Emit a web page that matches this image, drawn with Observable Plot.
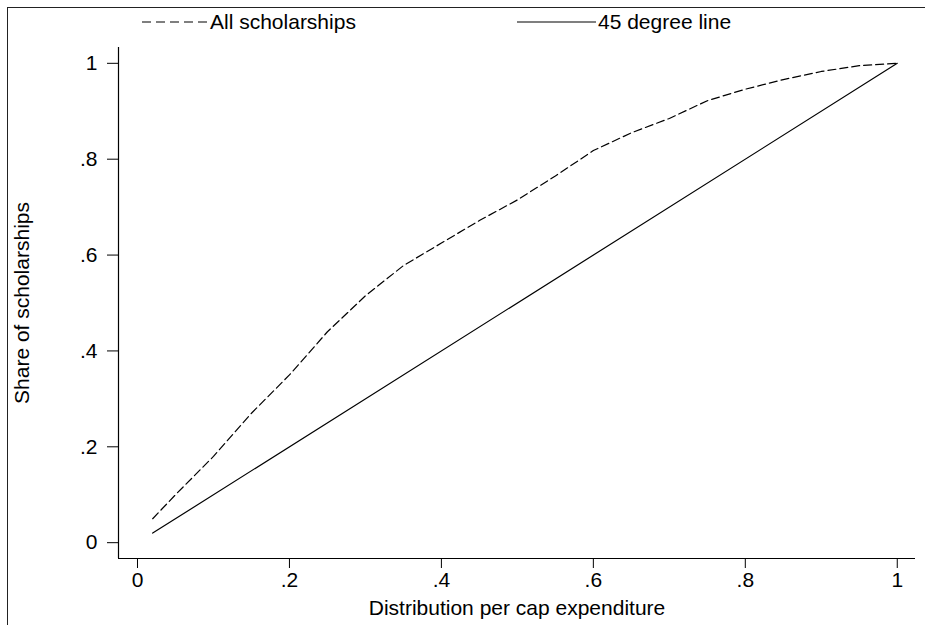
<!DOCTYPE html>
<html><head><meta charset="utf-8">
<script src="https://cdn.jsdelivr.net/npm/d3@7"></script>
<script src="https://cdn.jsdelivr.net/npm/@observablehq/plot@0.6"></script>
<style>
body{margin:0;background:#fff;font-family:"Liberation Sans",Arial,sans-serif;}
#wrap{position:relative;width:925px;height:625px;overflow:hidden;background:#fff;}
#frame{position:absolute;left:7px;top:7px;width:940px;height:640px;border-top:1.5px solid #222;border-left:1.5px solid #222;}
.leg{position:absolute;top:9px;height:26px;display:flex;align-items:center;font-size:21px;color:#000;}
.leg svg{display:block;margin-right:2px;}
#chart{position:absolute;left:0;top:0;}
</style></head>
<body>
<div id="wrap">
  <div id="frame"></div>
  <div id="chart"></div>
  <div class="leg" style="left:142px"><svg width="66" height="4"><line x1="0" y1="2" x2="66" y2="2" stroke="#000" stroke-width="1.2" stroke-dasharray="9,5"/></svg><span>All scholarships</span></div>
  <div class="leg" style="left:517px"><svg width="79" height="4"><line x1="0" y1="2" x2="79" y2="2" stroke="#000" stroke-width="1.2"/></svg><span>45 degree line</span></div>
</div>
<script>
const xTicks = [0, 0.2, 0.4, 0.6, 0.8, 1];
const yTicks = [0, 0.2, 0.4, 0.6, 0.8, 1];
const scholX = [0.02, 0.05, 0.10, 0.15, 0.20, 0.25, 0.30, 0.35, 0.40, 0.45, 0.50, 0.55, 0.60, 0.65, 0.70, 0.75, 0.80, 0.85, 0.90, 0.95, 1.00];
const scholY = [0.05, 0.10, 0.18, 0.27, 0.350, 0.44, 0.515, 0.578, 0.625, 0.672, 0.715, 0.765, 0.818, 0.855, 0.885, 0.922, 0.946, 0.966, 0.983, 0.995, 1.00];
const diagX = [0.02, 1];
const diagY = [0.02, 1];
const xDomain = [-0.025, 1.024];
const yDomain = [-0.033, 1.033];

const schol = scholX.map((x, i) => ({x, y: scholY[i]}));
const diag = diagX.map((x, i) => ({x, y: diagY[i]}));
const fmt = d => d === 0 ? "0" : d === 1 ? "1" : String(d).replace(/^0/, "");

const chart = Plot.plot({
  width: 925, height: 625,
  marginLeft: 118, marginRight: 10, marginTop: 47, marginBottom: 67,
  x: {domain: xDomain},
  y: {domain: yDomain},
  style: {fontFamily: '"Liberation Sans", Arial, sans-serif', fontSize: "21px", color: "#000", background: "transparent"},
  marks: [
    Plot.ruleX([xDomain[0]], {stroke: "#000", strokeWidth: 1.2}),
    Plot.ruleY([yDomain[0]], {stroke: "#000", strokeWidth: 1.2}),
    Plot.axisX({ticks: xTicks, tickFormat: fmt, tickSize: 10, tickPadding: 4,
      label: "Distribution per cap expenditure", labelAnchor: "center", labelArrow: "none", labelOffset: 56}),
    Plot.axisY({ticks: yTicks, tickFormat: fmt, tickSize: 11, tickPadding: 10,
      label: "Share of scholarships", labelAnchor: "center", labelArrow: "none", labelOffset: 104}),
    Plot.line(schol, {x: "x", y: "y", stroke: "#000", strokeWidth: 1.2, strokeDasharray: "8,4"}),
    Plot.line(diag, {x: "x", y: "y", stroke: "#000", strokeWidth: 1.2})
  ]
});
document.getElementById("chart").appendChild(chart);
</script>
</body></html>
